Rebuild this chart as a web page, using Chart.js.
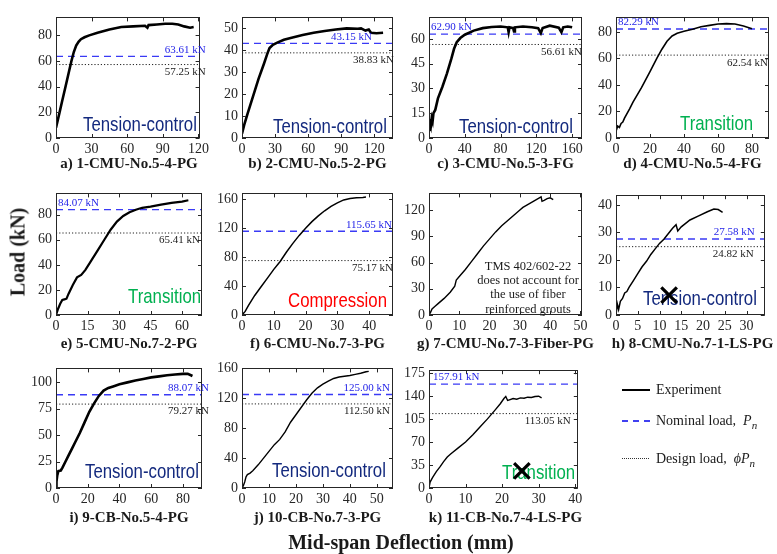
<!DOCTYPE html>
<html><head><meta charset="utf-8">
<script src="https://cdn.jsdelivr.net/npm/chart.js@4.4.1/dist/chart.umd.min.js"></script>
<style>
html,body{margin:0;padding:0;background:#fff}
body{width:777px;height:554px;position:relative;overflow:hidden;font-family:"Liberation Serif","Times New Roman",serif;color:#1a1a1a}
canvas{position:absolute}
.cap{position:absolute;font:bold 15px "Liberation Serif",serif;white-space:nowrap;transform:translate(-50%,-50%)}
.title{position:absolute;font:bold 20px "Liberation Serif",serif;white-space:nowrap;transform:translate(-50%,-50%)}
.leg{position:absolute;font:14px "Liberation Serif",serif;white-space:nowrap;transform:translateY(-50%)}
.legline{position:absolute;width:28px}
</style>
</head><body>
<div id="root"></div>
<script>
// ---------------- data ----------------
const panelNames = ["a) 1-CMU-No.5-4-PG","b) 2-CMU-No.5-2-PG","c) 3-CMU-No.5-3-FG","d) 4-CMU-No.5-4-FG",
  "e) 5-CMU-No.7-2-PG","f) 6-CMU-No.7-3-PG","g) 7-CMU-No.7-3-Fiber-PG","h) 8-CMU-No.7-1-LS-PG",
  "i) 9-CB-No.5-4-PG","j) 10-CB-No.7-3-PG","k) 11-CB-No.7-4-LS-PG"];
const nominalLoads = [63.61,43.15,62.90,82.29,84.07,115.65,null,27.58,88.07,125.00,157.91];
const designLoads  = [57.25,38.83,56.61,62.54,65.41,75.17,null,24.82,79.27,112.50,113.05];
const failureModes = ["Tension-control","Tension-control","Tension-control","Transition","Transition","Compression",
  null,"Tension-control","Tension-control","Tension-control","Transition"];

const curveA=[[0,8],[1,12],[3,20],[5,28],[8,40],[11,52],[13,60],[15,67],[17,72],[19,75],[21,77],[24,78.5],[28,80],[35,82],[45,84.5],[55,86.5],[65,87],[75,87.5],[77,86],[78,88],[85,88.5],[92,89],[98,89],[103,88.5],[108,87],[113,86],[116,86.5]];
const curveB=[[0,2],[2,6],[5,11],[10,19],[15,27],[20,34],[23,38.5],[25,41],[28,42.5],[32,43.5],[38,44.8],[45,45.7],[55,47],[65,48],[75,48.8],[85,49.5],[95,50],[105,49.8],[108,50],[112,49],[115,49.5],[117,48],[122,47.8],[128,48]];
const curveC=[[0,5],[1,9],[2,7],[3,12],[4,10],[5,15],[7,17],[10,24],[15,31],[20,39],[25,48],[28,54],[31,58],[35,60.5],[40,62.5],[50,65],[60,66.5],[70,67.2],[80,67.5],[88,67],[89,64],[90,67],[94,66.5],[95,64.5],[96,67],[105,67.5],[115,67],[122,66.5],[125,63.5],[127,66.5],[135,68],[145,66.8],[148,64],[150,67],[155,67.5],[160,67]];
const curveD=[[0,5],[1,9],[2,8],[3,11],[4,12],[5,15],[8,22],[10,27],[15,38],[20,50],[24,60],[27,67],[30,73],[33,77],[36,79],[40,80.5],[45,82],[50,84],[55,85],[60,86],[65,86.3],[70,86],[75,84.5],[80,82.5]];
const curveE=[[0,0],[1,5],[2,9],[3,12],[4,12.5],[5,13],[6,17],[8,24],[10,30],[12,32],[14,36],[17,44],[20,52],[23,60],[26,68],[29,74.5],[32,79],[35,82],[38,84],[41,85.5],[45,86.5],[50,88],[55,89.5],[60,90.5],[63,91.5]];
const curveF=[[0,0],[1,5],[2,13],[4,27],[6,39],[8,51],[10,63],[12,74],[14,87],[16,99],[18,110],[20,120],[22,129],[24,137],[26,144],[28,150],[30,155],[32,159],[34,161],[36,162],[38,162.5],[39,163]];
const curveG=[[0,0],[0.5,3],[1,7],[2,10],[3,13],[5,19],[7,26],[8.5,33],[9,40],[10,44],[12,52],[14,61],[16,70],[18,79],[20,87],[22,95],[24,102],[26,108],[28,114],[30,120],[31,123],[32,125],[34,129],[36,133],[37,135],[37.3,130],[38,131],[39,133],[40,134],[41,132]];
const curveH=[[0,0],[0.3,4],[0.6,2],[1,5],[1.5,6],[2,8],[2.5,8.5],[3,10],[4,12.5],[5,15],[6,17.5],[7,19.5],[8,22],[9,24],[10,26],[11,27.5],[12,29.5],[13,31.5],[13.8,32.8],[14.2,30.5],[15,32],[17,34.5],[19,36],[21,37.5],[22.5,38.5],[23.5,38.3],[24.5,37.3]];
const curveI=[[0,0],[0.3,6],[0.8,12],[1.5,16],[3,16.5],[4,19],[6,25],[8,31],[10,37],[12,43],[15,52],[18,62],[21,72],[24,80],[27,87],[30,92],[33,94.5],[36,96],[40,98],[45,99.8],[50,101.5],[55,103],[60,104.5],[65,105.5],[70,106.5],[75,107.3],[80,107.8],[83,107.8],[85,106.5],[86,105.8]];
const curveJ=[[0,0],[0.5,3],[1,8],[1.5,15],[2,18],[3,20],[4,23],[6,31],[8,40],[10,49],[12,58],[14,65],[16,75],[18,88],[20,98],[22,108],[24,118],[26,127],[28,134],[30,139],[32,143],[34,146.5],[36,148.5],[38,149.5],[40,150.5],[42,152],[44,153.5],[46,155.5],[47,156]];
const curveK=[[0,0],[0.3,9],[1,16],[2,25],[3,32],[4,40],[5,47],[6,52],[8,61],[10,70],[12,81],[14,93],[16,105],[18,118],[19.5,128],[20.5,136],[21,139],[21.5,133],[22,134],[23,136],[24,135],[25,137],[26,136.5],[27,138],[28,137.5],[29,139],[30,139.5],[30.8,137]];
const curves=[curveA,curveB,curveC,curveD,curveE,curveF,curveG,curveH,curveI,curveJ,curveK];

const xTicks=[[0,30,60,90,120],[0,30,60,90,120],[0,40,80,120,160],[0,20,40,60,80],[0,15,30,45,60],[0,10,20,30,40],
  [0,10,20,30,40,50],[0,5,10,15,20,25,30],[0,20,40,60,80],[0,10,20,30,40,50],[0,10,20,30,40]];
const yTicks=[[0,20,40,60,80],[0,10,20,30,40,50],[0,15,30,45,60],[0,20,40,60,80],[0,20,40,60,80],[0,40,80,120,160],
  [0,30,60,90,120],[0,10,20,30,40],[0,25,50,75,100],[0,40,80,120,160],[0,35,70,105,140,175]];
const xMax=[121,137,171,90,69.5,47.5,50.5,34.2,92,56,40.7];
const yMax=[94,55,73,91,97,168,139,43.5,113,160,179];
// "not applicable" marks (deflection, load)
const crossMarks=[null,null,null,null,null,null,null,[12.2,7.2],null,null,[25.4,26]];
const noteLines=["TMS 402/602-22","does not account for","the use of fiber","reinforced grouts"];

// ---------------- layout (pixels) ----------------
const colL=[56,242,429,616], colR=[202,393,582,769];
const rowT=[13,189,364], rowB=[138,315,488];
const ML=42, MT=8, MR=10, MB=24;
const lineW=[2.6,2.6,2.6,1.6,2.2,1.5,1.4,1.5,2.6,1.4,1.4];
const nomPos=[["R",-6],["R",21],["L",2],["L",2],["L",2],["R",1],null,["R",10],["R",-7],["R",3],["L",4]];
const desPos=[["R",-6],["R",-1],["R",0],["R",1],["R",2],["R",0],null,["R",11],["R",-7],["R",3],["R",7]];
const modePos=[[27,108],[31,110],[30,110],[64,107],[72,104],[46,108],null,[27,104],[29,104],[30,103],[73,103]];
const modeColor={"Tension-control":"#13297e","Transition":"#00b050","Compression":"#ff0000"};

Chart.defaults.font.family='"Liberation Serif","Times New Roman",serif';
Chart.defaults.animation=false;

const boxPlugin={
  id:'box',
  beforeDatasetsDraw(chart,args,o){
    const ctx=chart.ctx, a=chart.chartArea;
    ctx.save();
    if(o.mode){
      ctx.font='21px "Liberation Sans",Arial,sans-serif';
      ctx.fillStyle=modeColor[o.mode]; ctx.textBaseline='middle'; ctx.textAlign='left';
      ctx.translate(a.left+o.modePos[0],a.top+o.modePos[1]);
      ctx.scale(0.8,1);
      ctx.fillText(o.mode,0,0);
      ctx.setTransform(1,0,0,1,0,0);
    }
    if(o.note){
      ctx.font='12.5px "Liberation Serif",serif'; ctx.fillStyle='#1a1a1a';
      ctx.textAlign='center'; ctx.textBaseline='middle';
      o.note.forEach((t,i)=>ctx.fillText(t,a.left+99,a.top+73+i*14.4));
    }
    ctx.restore();
  },
  afterDraw(chart,args,o){
    const ctx=chart.ctx, a=chart.chartArea, x=chart.scales.x, y=chart.scales.y;
    ctx.save();
    ctx.strokeStyle='#262626'; ctx.lineWidth=1;
    ctx.beginPath();
    x.ticks.forEach(t=>{const p=Math.round(x.getPixelForValue(t.value))+0.5;
      ctx.moveTo(p,a.bottom);ctx.lineTo(p,a.bottom-4);ctx.moveTo(p,a.top);ctx.lineTo(p,a.top+4);});
    y.ticks.forEach(t=>{const p=Math.round(y.getPixelForValue(t.value))+0.5;
      ctx.moveTo(a.left,p);ctx.lineTo(a.left+4,p);ctx.moveTo(a.right,p);ctx.lineTo(a.right-4,p);});
    ctx.stroke();
    ctx.strokeRect(Math.round(a.left)+0.5,Math.round(a.top)+0.5,Math.round(a.right-a.left)-1,Math.round(a.bottom-a.top)-1);
    ctx.font='11px "Liberation Serif",serif';
    (o.labels||[]).forEach(l=>{
      const py=y.getPixelForValue(l.v);
      ctx.fillStyle=l.color;
      ctx.textAlign=l.side==='R'?'right':'left';
      ctx.textBaseline=l.above?'bottom':'top';
      const px=l.side==='R'?a.right-l.inset:a.left+l.inset;
      ctx.fillText(l.v.toFixed(2)+' kN',px,l.above?py-1:py+2);
    });
    ctx.restore();
  }
};

const root=document.getElementById('root');
for(let i=0;i<11;i++){
  const col=i%4, row=Math.floor(i/4);
  const pl=colL[col], pr=colR[col], pt=rowT[row], pb=rowB[row];
  const cv=document.createElement('canvas');
  const W=pr-pl+ML+MR, H=pb-pt+MT+MB;
  cv.width=W; cv.height=H;
  cv.style.left=(pl-ML)+'px'; cv.style.top=(pt-MT)+'px';
  cv.style.width=W+'px'; cv.style.height=H+'px';
  root.appendChild(cv);

  const ds=[];
  ds.push({data:curves[i].map(([x,y])=>({x,y})),borderColor:'#000',borderWidth:lineW[i],pointRadius:0,tension:0,order:1});
  if(nominalLoads[i]!==null){
    ds.push({data:[{x:0,y:nominalLoads[i]},{x:xMax[i],y:nominalLoads[i]}],borderColor:'#3a3af5',borderWidth:1.4,borderDash:[7,5],pointRadius:0,order:2});
    ds.push({data:[{x:0,y:designLoads[i]},{x:xMax[i],y:designLoads[i]}],borderColor:'#222',borderWidth:1,borderDash:[1.2,2],pointRadius:0,order:3});
  }
  if(crossMarks[i]){
    ds.push({type:'scatter',data:[{x:crossMarks[i][0],y:crossMarks[i][1]}],pointStyle:'crossRot',pointRadius:11,borderColor:'#000',borderWidth:3.2,order:0});
  }
  const labels=[];
  if(nominalLoads[i]!==null){
    labels.push({v:nominalLoads[i],color:'#2323e8',side:nomPos[i][0],inset:nomPos[i][1],above:true});
    labels.push({v:designLoads[i],color:'#1a1a1a',side:desPos[i][0],inset:desPos[i][1],above:false});
  }
  const tickFont={size:14,family:'"Liberation Serif","Times New Roman",serif'};
  new Chart(cv,{
    type:'line',
    data:{datasets:ds},
    options:{
      responsive:false, devicePixelRatio:1, animation:false,
      layout:{padding:{left:0,top:MT,right:MR,bottom:0}},
      plugins:{legend:{display:false},tooltip:{enabled:false},
        box:{labels,mode:failureModes[i],modePos:modePos[i],note:i===6?noteLines:null}},
      scales:{
        x:{type:'linear',min:0,max:xMax[i],
          grid:{display:false,drawTicks:false},border:{display:false},
          ticks:{color:'#262626',font:tickFont,padding:3,maxRotation:0},
          afterBuildTicks:s=>{s.ticks=xTicks[i].map(v=>({value:v}));},
          afterFit:s=>{s.height=MB;}},
        y:{type:'linear',min:0,max:yMax[i],
          grid:{display:false,drawTicks:false},border:{display:false},
          ticks:{color:'#262626',font:tickFont,padding:4},
          afterBuildTicks:s=>{s.ticks=yTicks[i].map(v=>({value:v}));},
          afterFit:s=>{s.width=ML;}}
      }
    },
    plugins:[boxPlugin]
  });

  const cap=document.createElement('div');
  cap.className='cap'; cap.textContent=panelNames[i];
  const capY=[163,343,517][row];
  cap.style.left=((pl+pr)/2)+'px'; cap.style.top=capY+'px';
  root.appendChild(cap);
}

// axis titles
const yt=document.createElement('div');
yt.className='title'; yt.textContent='Load (kN)';
yt.style.left='18px'; yt.style.top='252px'; yt.style.transform='translate(-50%,-50%) rotate(-90deg)';
root.appendChild(yt);
const xt=document.createElement('div');
xt.className='title'; xt.textContent='Mid-span Deflection (mm)';
xt.style.left='401px'; xt.style.top='542px';
root.appendChild(xt);

// legend
const subn='<sub style="font-style:italic;font-size:11px;position:relative;top:4px;vertical-align:baseline">n</sub>';
const legItems=[
  {y:390,html:'Experiment',style:'height:2px;background:#000'},
  {y:421,html:'Nominal load,&nbsp; <i>P</i>'+subn,style:'height:1.5px;background:repeating-linear-gradient(to right,#4040f0 0 6px,transparent 6px 11px)'},
  {y:459,html:'Design load,&nbsp; <i>&#981;P</i>'+subn,style:'height:1px;background:repeating-linear-gradient(to right,#333 0 1px,transparent 1px 2px)'}
];
legItems.forEach(it=>{
  const l=document.createElement('div'); l.className='legline';
  l.style.cssText+='left:622px;top:'+(it.y-1)+'px;'+it.style;
  root.appendChild(l);
  const t=document.createElement('div'); t.className='leg'; t.innerHTML=it.html;
  t.style.left='656px'; t.style.top=it.y+'px';
  root.appendChild(t);
});
</script>
</body></html>
